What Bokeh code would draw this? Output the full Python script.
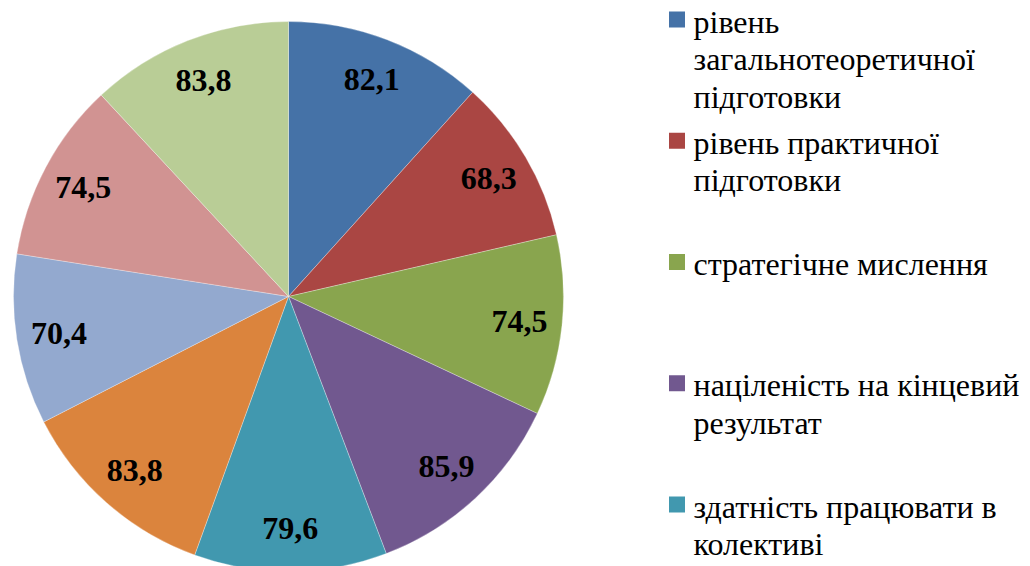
import math
from bokeh.plotting import figure
from bokeh.models import Range1d, ColumnDataSource
from bokeh.core.properties import value
from bokeh.embed import file_html
from bokeh.resources import INLINE

values = [82.1, 68.3, 74.5, 85.9, 79.6, 83.8, 70.4, 74.5, 83.8]
value_labels = ["82,1", "68,3", "74,5", "85,9", "79,6", "83,8", "70,4", "74,5", "83,8"]
colors = ["#4572A7", "#AA4643", "#89A54E", "#71588F", "#4198AF",
          "#DB843D", "#93A9CF", "#D19392", "#B9CD96"]
legend_labels = [
    "рівень\nзагальнотеоретичної\nпідготовки",
    "рівень практичної\nпідготовки",
    "стратегічне мислення",
    "націленість на кінцевий\nрезультат",
    "здатність працювати в\nколективі",
]

SERIF = value("Liberation Serif")

W, H = 1030, 566
p = figure(width=W, height=H, output_backend="svg", toolbar_location=None,
           x_range=Range1d(0, W), y_range=Range1d(-H, 0),
           min_border=0, outline_line_color=None)
p.axis.visible = False
p.grid.visible = False
p.background_fill_color = "white"

cx, cy, R = 288, -296, 275
total = sum(values)
starts, ends, lx, ly = [], [], [], []
cum = 0.0
for v in values:
    a0 = math.pi / 2 - cum / total * 2 * math.pi
    cum += v
    a1 = math.pi / 2 - cum / total * 2 * math.pi
    starts.append(a0)
    ends.append(a1)
    mid = (a0 + a1) / 2
    lx.append(cx + 0.845 * R * math.cos(mid))
    ly.append(cy + 0.845 * R * math.sin(mid))

src = ColumnDataSource(dict(start=starts, end=ends, color=colors, lx=lx, ly=ly, lab=value_labels))
p.wedge(x=cx, y=cy, radius=R, start_angle="start", end_angle="end", direction="clock",
        fill_color="color", line_color="white", line_width=0.3, source=src)
p.text(x="lx", y="ly", text="lab", source=src, text_font=SERIF,
       text_font_style="bold", text_font_size="32px", text_align="center",
       text_baseline="middle", text_color="black")

# legend
step, lh = -121.25, -37.5
tx, ty0 = 693, -21
sq_x, sq_y0 = 676.5, -19
rx, ry, tx_l, ty_l, tt = [], [], [], [], []
for i, lab in enumerate(legend_labels):
    rx.append(sq_x)
    ry.append(sq_y0 + i * step)
    for j, line in enumerate(lab.split("\n")):
        tx_l.append(tx)
        ty_l.append(ty0 + i * step + j * lh)
        tt.append(line)
p.rect(x=rx, y=ry, width=16, height=16, fill_color=colors[:len(legend_labels)], line_color=None)
p.text(x=tx_l, y=ty_l, text=tt, text_font=SERIF, text_font_size="32px",
       text_align="left", text_baseline="alphabetic", text_color="black")

open("out.html", "w").write(file_html(p, INLINE))
